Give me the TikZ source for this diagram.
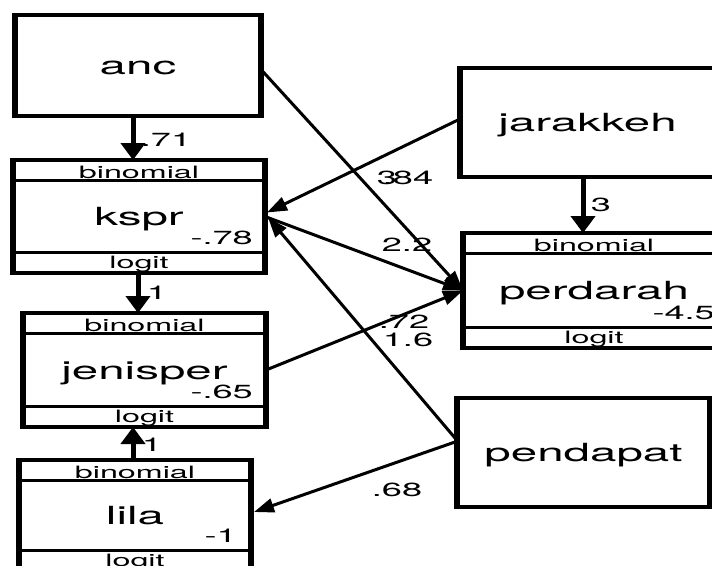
\documentclass[tikz,border=0pt]{standalone}
\usepackage{fontspec}
\setmainfont{TeX Gyre Heros}[FakeStretch=1.9]
\usetikzlibrary{arrows.meta,calc}
\begin{document}
\begin{tikzpicture}[x=1pt,y=-1pt,
  box/.style={draw,line width=3.5pt,inner sep=0pt,outer sep=0pt,
    font=\fontsize{25}{25}\selectfont,text height=18pt,text depth=0pt},
  side/.style={line width=5.5pt},
  divider/.style={line width=3pt},
  strip/.style={font=\fontsize{17}{17}\selectfont,anchor=base,inner sep=0pt},
  num/.style={font=\fontsize{19}{19}\selectfont,anchor=base east,inner sep=0pt},
  coef/.style={font=\fontsize{19}{19}\selectfont,inner sep=0pt},
  dpath/.style={line width=3pt,-{Triangle[length=20pt,width=14pt]}},
  vpath/.style={line width=5pt,-{Triangle[length=17pt,width=24pt]}}]
\useasboundingbox (0,0) rectangle (712,565);
\clip (0,0) rectangle (712,565);
\fill[white] (0,0) rectangle (712,565);

% boxes
\node[box,minimum width=246pt,minimum height=101pt] (anc) at (138,65.5) {anc};
\node[box,minimum width=252pt,minimum height=113pt] (kspr) at (139,216.5) {kspr};
\node[box,minimum width=243pt,minimum height=114pt] (jenisper) at (144.5,370) {jenisper};
\node[box,minimum width=232pt,minimum height=111pt] (lila) at (135,515.5) {lila};
\node[box,minimum width=255pt,minimum height=109pt] (jarakkeh) at (587.5,122.5) {jarakkeh};
\node[box,minimum width=262pt,minimum height=115pt] (perdarah) at (594,290.5) {perdarah};
\node[box,minimum width=253pt,minimum height=109pt] (pendapat) at (583.5,452.5) {pendapat};

% thicker vertical sides
\foreach \b in {anc,kspr,jenisper,lila,jarakkeh,perdarah,pendapat}{
  \draw[side] ($(\b.north west)+(0,-1.75)$) -- ($(\b.south west)+(0,1.75)$);
  \draw[side] ($(\b.north east)+(0,-1.75)$) -- ($(\b.south east)+(0,1.75)$);
}

% dividers, strip texts
\foreach \b in {kspr,jenisper,lila,perdarah}{
  \draw[divider] ($(\b.north west)+(0,20)$) -- ($(\b.north east)+(0,20)$);
  \draw[divider] ($(\b.south west)+(0,-21)$) -- ($(\b.south east)+(0,-21)$);
  \node[strip] (\b-fam) at ($(\b.north)+(0,18)$) {binomial};
  \node[strip] (\b-link) at ($(\b.south)+(0,-4.5)$) {logit};
}
\node[num] (kspr-c) at ($(kspr.south east)+(-12,-28.5)$) {-.78};
\node[num] (jenisper-c) at ($(jenisper.south east)+(-13,-28.5)$) {-.65};
\node[num] (lila-c) at ($(lila.south east)+(-14,-28.5)$) {-1};
\node[num] (perdarah-c) at ($(perdarah.south east)+(-10,-28.5)$) {-4.5};

% vertical paths
\draw[vpath] ($(anc.south)+(-5,0)$) -- ($(kspr.north)+(-6,0)$);
\draw[vpath] ($(kspr.south)+(-1,0)$) -- ($(jenisper.north)+(-6.5,0)$);
\draw[vpath] ($(lila.north)+(-2,0)$) -- ($(jenisper.south)+(-11.5,0)$);
\draw[vpath] ($(jarakkeh.south)+(-4.5,0)$) -- ($(perdarah.north)+(-11,0)$);

% diagonal paths
\draw[dpath] ($(anc.east)+(0,4)$) -- (perdarah.west);
\draw[dpath] ($(jarakkeh.west)+(0,-3.5)$) -- ($(kspr.east)+(2,-4)$);
\draw[dpath] (kspr.east) -- (perdarah.west);
\draw[dpath] (jenisper.east) -- (perdarah.west);
\draw[dpath] ($(pendapat.west)+(-2,-14.5)$) -- ($(kspr.east)+(3,1)$);
\draw[dpath] ($(pendapat.west)+(-2,-10.5)$) -- ($(lila.east)+(3,-3.5)$);

% coefficients
\node[coef] (c-anc-kspr) at (166,140) {.71};
\node[coef] (c-kspr-jen) at (157,293) {1};
\node[coef] (c-lila-jen) at (152,445) {1};
\node[coef] (c-jar-perd) at (601,205) {3};
\node[coef] (c-anc-perd) at (387,178) {3};
\node[coef] (c-jar-kspr) at (408,178) {.84};
\node[coef] (c-kspr-perd) at (407,245) {2.2};
\node[coef] (c-jen-perd) at (404,322) {.72};
\node[coef] (c-pen-kspr) at (408,340) {1.6};
\node[coef] (c-pen-lila) at (397,490) {.68};
\end{tikzpicture}
\end{document}
